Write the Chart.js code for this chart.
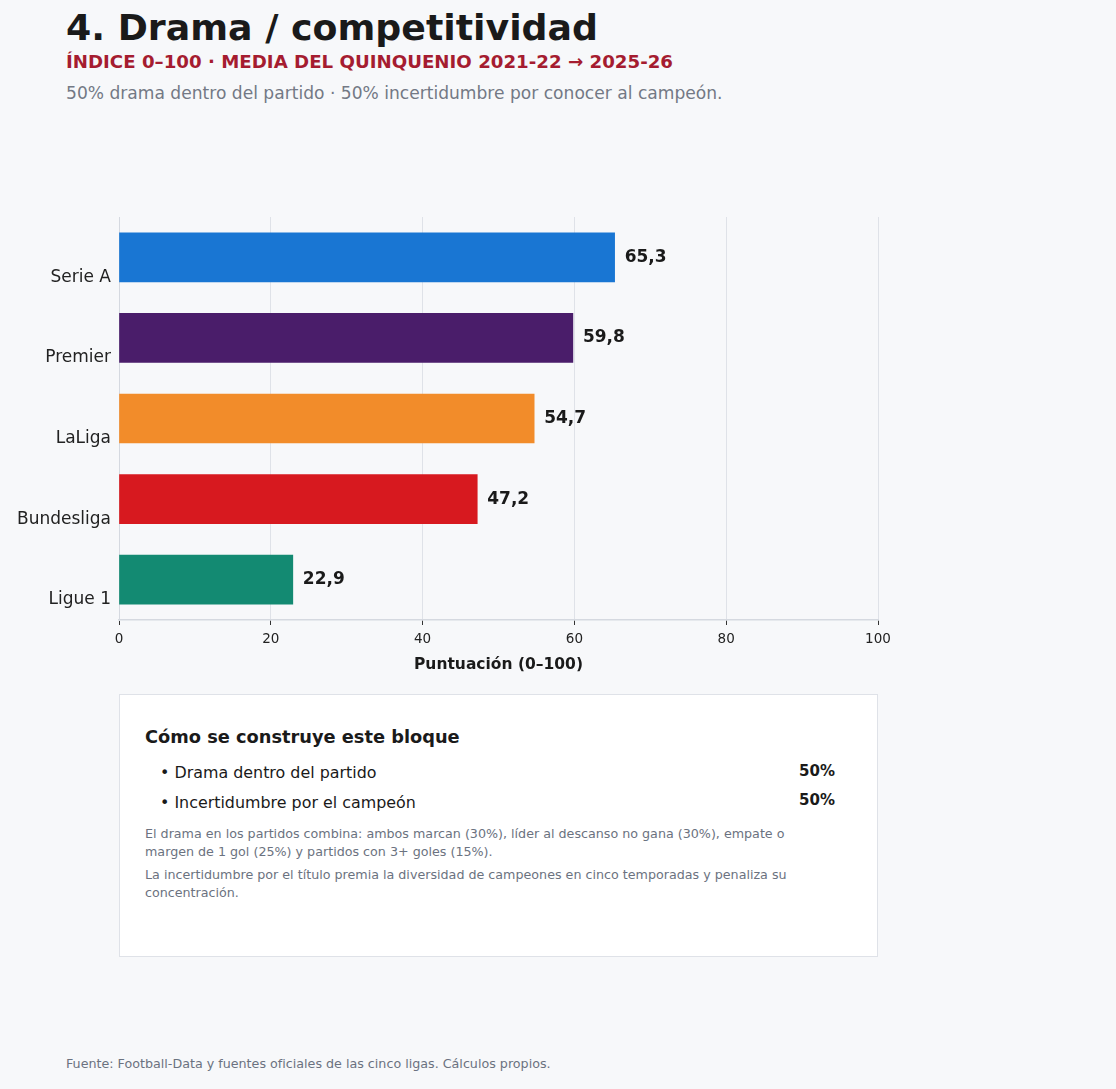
<!DOCTYPE html>
<html lang="es">
<head>
<meta charset="utf-8">
<script src="https://cdn.jsdelivr.net/npm/chart.js@4"></script>
<style>
  html, body { margin: 0; padding: 0; }
  body {
    width: 1116px; height: 1089px; position: relative; overflow: hidden;
    background: #f7f8fa; font-family: "DejaVu Sans", sans-serif; color: #1a1a1a;
  }
  .abs { position: absolute; white-space: nowrap; }
  #title { left: 66px; top: 6px; font-size: 36.3px; font-weight: bold; color: #1a1a1a; }
  #sub { left: 66px; top: 51px; font-size: 18.2px; font-weight: bold; color: #a51c30; }
  #desc { left: 66px; top: 83px; font-size: 17.1px; color: #737985; }
  #chartWrap { position: absolute; left: 0; top: 200px; width: 900px; height: 474px; }
  #box {
    position: absolute; left: 119px; top: 694px; width: 757px; height: 261px;
    background: #ffffff; border: 1px solid #dfe2e8;
  }
  #box h3 { position: absolute; left: 25px; top: 31px; margin: 0; font-size: 17.8px; font-weight: bold; }
  .row { position: absolute; left: 40px; font-size: 15.9px; color: #1a1a1a; }
  .pct { position: absolute; right: 42px; font-size: 15px; font-weight: bold; }
  .note { position: absolute; left: 25px; width: 670px; margin: 0; font-size: 12.7px; line-height: 18px; color: #6b7280; }
  #foot { left: 66px; top: 1056px; font-size: 12.7px; color: #6b7280; }
</style>
</head>
<body>
<div id="title" class="abs">4. Drama / competitividad</div>
<div id="sub" class="abs">ÍNDICE 0–100 · MEDIA DEL QUINQUENIO 2021-22 → 2025-26</div>
<div id="desc" class="abs">50% drama dentro del partido · 50% incertidumbre por conocer al campeón.</div>

<div id="chartWrap"><canvas id="chartDrama" width="900" height="474"></canvas></div>

<div id="box">
  <h3>Cómo se construye este bloque</h3>
  <div class="row" style="top:68px">• Drama dentro del partido</div>
  <div class="pct" style="top:67px">50%</div>
  <div class="row" style="top:98px">• Incertidumbre por el campeón</div>
  <div class="pct" style="top:96px">50%</div>
  <p class="note" style="top:130px">El drama en los partidos combina: ambos marcan (30%), líder al descanso no gana (30%), empate o margen de 1 gol (25%) y partidos con 3+ goles (15%).</p>
  <p class="note" style="top:171px">La incertidumbre por el título premia la diversidad de campeones en cinco temporadas y penaliza su concentración.</p>
</div>

<div id="foot" class="abs">Fuente: Football-Data y fuentes oficiales de las cinco ligas. Cálculos propios.</div>

<script>
const ligas = ["Serie A", "Premier", "LaLiga", "Bundesliga", "Ligue 1"];
const puntuacion = [65.3, 59.8, 54.7, 47.2, 22.9];
const coloresLiga = ["#1976d3", "#4a1d6a", "#f28c2a", "#d7191f", "#138a72"];
const ticksX = [0, 20, 40, 60, 80, 100];

const fmt = (v) => v.toFixed(1).replace(".", ",");

// etiquetas de valor al final de cada barra
const valueLabels = {
    id: "valueLabels",
    afterDatasetsDraw(chart) {
        const ctx = chart.ctx;
        const meta = chart.getDatasetMeta(0);
        ctx.save();
        ctx.font = "bold 17px 'DejaVu Sans'";
        ctx.fillStyle = "#1a1a1a";
        ctx.textBaseline = "middle";
        ctx.textAlign = "left";
        meta.data.forEach((bar, i) => {
            ctx.fillText(fmt(puntuacion[i]), bar.x + 10, bar.y);
        });
        ctx.restore();
    },
};

document.addEventListener("DOMContentLoaded", () => {
    const ctx = document.getElementById("chartDrama").getContext("2d");

    new Chart(ctx, {
        type: "bar",
        data: {
            labels: ligas,
            datasets: [
                {
                    label: "Puntuación",
                    data: puntuacion,
                    backgroundColor: coloresLiga,
                    borderWidth: 0,
                    barThickness: 49,
                },
            ],
        },
        options: {
            indexAxis: "y",
            responsive: false,
            animation: false,
            layout: { padding: { top: 17, right: 22, left: 0, bottom: 0 } },
            plugins: {
                legend: { display: false },
                tooltip: { enabled: false },
            },
            scales: {
                x: {
                    min: 0,
                    max: 100,
                    afterBuildTicks: (scale) => {
                        scale.ticks = ticksX.map((v) => ({ value: v }));
                    },
                    afterFit: (scale) => {
                        scale.height = 54;
                    },
                    grid: {
                        color: "#dfe2e8",
                        lineWidth: 1,
                        tickLength: 5,
                        tickColor: "#333333",
                        tickWidth: 1,
                    },
                    border: { color: "#d5d9e0", width: 1.5 },
                    ticks: {
                        color: "#222222",
                        padding: 6,
                        font: { family: "DejaVu Sans", size: 13.5 },
                    },
                    title: {
                        display: true,
                        text: "Puntuación (0–100)",
                        color: "#1a1a1a",
                        padding: { top: 2, bottom: 0 },
                        font: { family: "DejaVu Sans", size: 15.5, weight: "bold" },
                    },
                },
                y: {
                    afterFit: (scale) => {
                        scale.width = 119;
                    },
                    grid: { display: false },
                    border: { color: "#d5d9e0", width: 1 },
                    ticks: {
                        color: "#222222",
                        padding: 0,
                        labelOffset: 20,
                        font: { family: "DejaVu Sans", size: 17 },
                    },
                },
            },
        },
        plugins: [valueLabels],
    });
});
</script>
</body>
</html>
